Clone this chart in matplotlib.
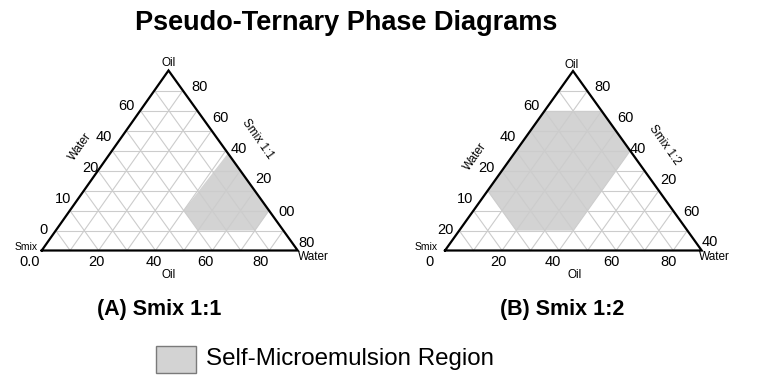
import numpy as np
import matplotlib.pyplot as plt
from matplotlib.patches import Polygon, Rectangle

plt.rcParams['font.family'] = ['Liberation Sans', 'DejaVu Sans']

# ternary compositions (%) of the self-microemulsion region: oil, water, smix
region_a_oil = [54.0, 22.2, 11.1, 11.1, 22.2]
region_a_water = [46.0, 44.4, 55.6, 77.8, 77.8]
region_b_oil = [77.8, 77.8, 55.6, 11.1, 11.1, 33.3]
region_b_water = [0.0, 22.2, 44.4, 44.4, 22.2, 0.0]

n_div = 9

# tick labels as printed on the two diagrams
left_a = ['60', '40', '20', '10', '0']
right_a = ['80', '60', '40', '20', '00', '80']
bottom_a = ['0.0', '20', '40', '60', '80']
left_b = ['60', '40', '20', '10', '20']
right_b = ['80', '60', '40', '20', '60', '40']
bottom_b = ['0', '20', '40', '60', '80']


def tern(corners, oil, water):
    '''
    Map oil / water fractions (0-1) to pixel coordinates of a triangle
    corners: (smix corner, water corner, oil apex)
    '''
    (sx, sy), (wx, wy), (ox, oy) = corners
    oil = np.asarray(oil, dtype=float)
    water = np.asarray(water, dtype=float)
    smix = 1 - oil - water
    return smix * sx + water * wx + oil * ox, smix * sy + water * wy + oil * oy


def draw_triangle(ax, corners, r_oil, r_water):
    # shaded region
    x, y = tern(corners, np.array(r_oil) / 100, np.array(r_water) / 100)
    ax.add_patch(Polygon(np.column_stack([x, y]), closed=True,
                         facecolor='#d3d3d3', edgecolor='none', zorder=1))
    # grid
    for k in range(1, n_div):
        f = k / n_div
        for a, b in [((f, 0), (f, 1 - f)),        # constant oil
                     ((0, f), (1 - f, f)),        # constant water
                     ((0, 1 - f), (1 - f, 0))]:   # constant smix
            xs, ys = tern(corners, [a[0], b[0]], [a[1], b[1]])
            ax.plot(xs, ys, color='#cccccc', lw=0.8, zorder=2)
    # outline
    pts = np.array(corners + [corners[0]])
    ax.plot(pts[:, 0], pts[:, 1], color='black', lw=1.6, zorder=3,
            solid_joinstyle='miter')


fig = plt.figure(figsize=(7.71, 3.91), dpi=100)
ax = fig.add_axes([0, 0, 1, 1])
ax.set_xlim(0, 771)
ax.set_ylim(391, 0)
ax.axis('off')

tri_a = [(41.7, 250.5), (297.7, 250.5), (168.5, 70.5)]
tri_b = [(445.0, 250.5), (701.7, 250.5), (573.0, 71.0)]
draw_triangle(ax, tri_a, region_a_oil, region_a_water)
draw_triangle(ax, tri_b, region_b_oil, region_b_water)

fs = 10.5
kw = dict(ha='center', va='center', fontsize=fs)
small = dict(ha='center', va='center', fontsize=8.5)

# panel A labels
ax.text(168.3, 62.5, 'Oil', **small)
for lab, (x, y) in zip(left_a, [(126.7, 106), (104, 137.3), (90.7, 168.3),
                               (62.7, 199.3), (43.3, 230)]):
    ax.text(x, y, lab, **kw)
for lab, (x, y) in zip(right_a, [(199.3, 87.3), (220, 118.3), (239.3, 149.3),
                                (263.3, 179.3), (286.7, 211.7), (306.7, 242.7)]):
    ax.text(x, y, lab, **kw)
for lab, x in zip(bottom_a, [30, 96.7, 154, 205, 260.7]):
    ax.text(x, 262.5, lab, **kw)
ax.text(168.3, 274.5, 'Oil', **small)
ax.text(80, 146.7, 'Water', rotation=55, **small)
ax.text(257.5, 139, 'Smix 1:1', rotation=-55, **small)
ax.text(26, 246.5, 'Smix', ha='center', va='center', fontsize=7.5)
ax.text(313, 257.5, 'Water', **small)

# panel B labels
ax.text(571.7, 65, 'Oil', **small)
for lab, (x, y) in zip(left_b, [(531.7, 106), (508.3, 137.3), (486.7, 168.3),
                               (465, 199.3), (445, 230)]):
    ax.text(x, y, lab, **kw)
for lab, (x, y) in zip(right_b, [(602.3, 87.3), (625, 118.3), (638.3, 149.3),
                                (668.3, 180), (691.7, 211.7), (710, 241.7)]):
    ax.text(x, y, lab, **kw)
for lab, x in zip(bottom_b, [430, 498.3, 553.3, 611.7, 668.3]):
    ax.text(x, 262.5, lab, **kw)
ax.text(575, 274.5, 'Oil', **small)
ax.text(475, 156.7, 'Water', rotation=55, **small)
ax.text(665, 145, 'Smix 1:2', rotation=-55, **small)
ax.text(426, 247.3, 'Smix', ha='center', va='center', fontsize=7.5)
ax.text(714, 256.5, 'Water', **small)

# titles
ax.text(346, 22.5, 'Pseudo-Ternary Phase Diagrams', fontsize=19.5,
        fontweight='bold', ha='center', va='center')
ax.text(159.5, 310, '(A) Smix 1:1', fontsize=15.5, fontweight='bold',
        ha='center', va='center')
ax.text(562.5, 310, '(B) Smix 1:2', fontsize=15.5, fontweight='bold',
        ha='center', va='center')

# legend
ax.add_patch(Rectangle((156, 346), 39.5, 26.5, facecolor='#d3d3d3',
                       edgecolor='#7a7a7a', lw=1.0))
ax.text(206, 359.5, 'Self-Microemulsion Region', fontsize=17.4,
        ha='left', va='center')

fig.savefig('out.png', dpi=100)
